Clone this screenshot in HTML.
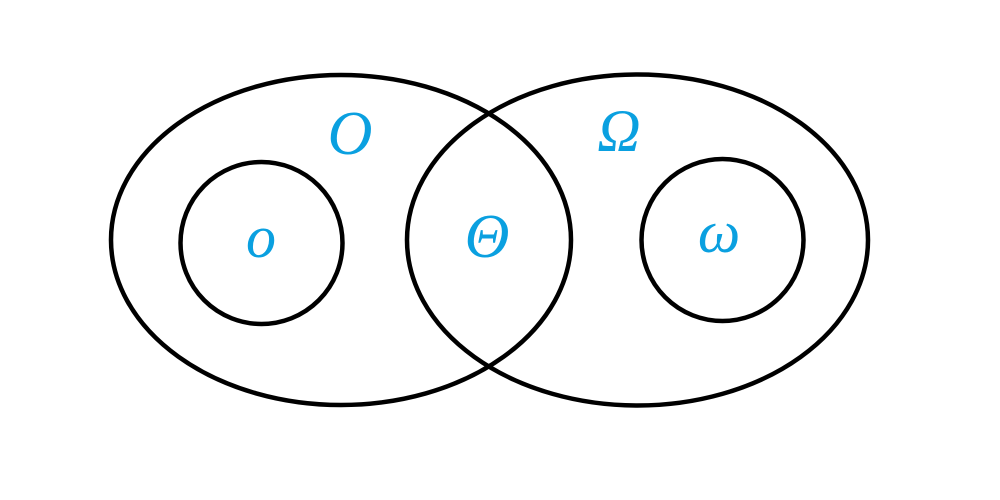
<!DOCTYPE html>
<html><head><style>html,body{margin:0;padding:0;background:#fff;}svg{display:block}</style></head>
<body>
<svg width="1000" height="500" viewBox="0 0 1000 500" xmlns="http://www.w3.org/2000/svg">
<g fill="none" stroke="#000" stroke-width="4.5">
<ellipse cx="341" cy="240" rx="230" ry="165"/>
<ellipse cx="637.5" cy="240" rx="230.5" ry="165.5"/>
<circle cx="261.5" cy="243" r="81"/>
<circle cx="722.5" cy="240" r="81"/>
</g>
<g fill="#0aa0e0" font-family="Liberation Serif, serif" font-style="italic" text-anchor="middle">
<text x="350" y="154" font-size="62">O</text>
<text x="619" y="151" font-size="60">Ω</text>
<text x="487" y="257" font-size="62">Θ</text>
<text x="261" y="257" font-size="60">o</text>
<text x="719" y="252" font-size="60">ω</text>
</g>
</svg>
</body></html>
